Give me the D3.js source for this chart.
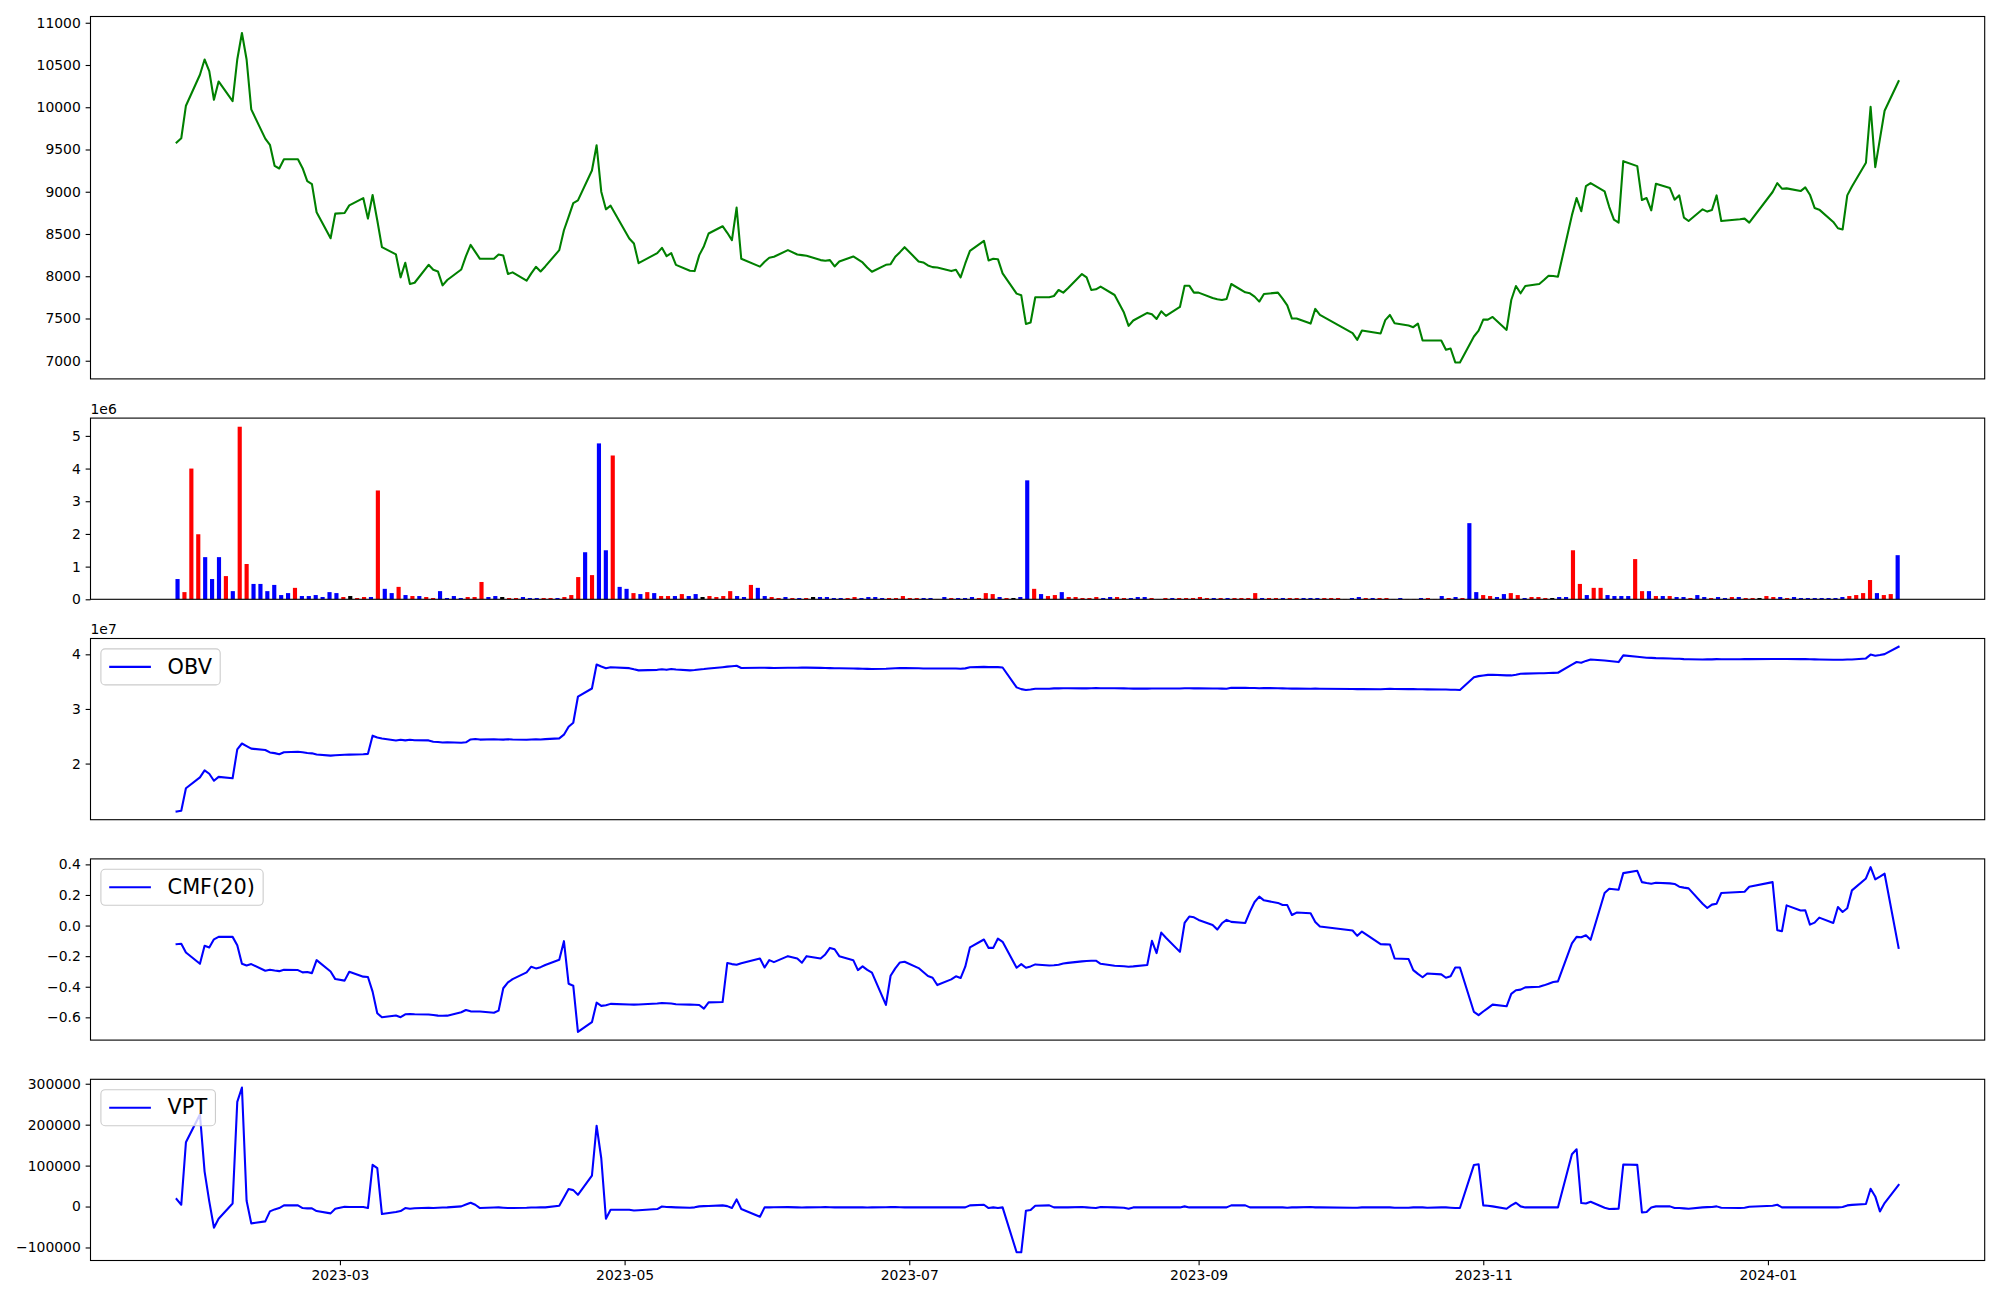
<!DOCTYPE html>
<html><head><meta charset="utf-8">
<script src="https://cdn.jsdelivr.net/npm/d3@7"></script>
<style>body{margin:0;background:#fff}</style>
</head><body>
<svg id="c" width="2000" height="1300" xmlns="http://www.w3.org/2000/svg"></svg>
<script>
// ---------------- DATA ----------------
const tradingDays = {
 "2023-01":[25,26,27,30,31],
 "2023-02":[1,2,3,6,7,8,9,10,13,14,15,16,17,20,21,22,23,24,27,28],
 "2023-03":[2,3,6,7,8,9,10,13,14,15,16,17,20,21,22,23,24,27,28,29,30,31],
 "2023-04":[3,4,5,6,7,10,11,12,13,14,17,18,19,20,21,24,25,26,27,28],
 "2023-05":[2,3,4,8,9,10,11,12,15,16,17,18,19,22,23,24,25,26,30,31],
 "2023-06":[1,2,5,7,8,9,12,13,14,15,16,19,20,21,22,23,26,27,28,29,30],
 "2023-07":[3,4,5,6,7,10,11,12,13,14,17,18,19,20,21,24,25,26,27,28,31],
 "2023-08":[1,2,3,4,7,8,9,10,11,14,16,17,18,21,22,23,24,25,28,29,30,31],
 "2023-09":[1,4,5,6,7,8,11,12,13,14,15,18,19,20,21,22,25,26,27],
 "2023-10":[4,5,6,10,11,12,13,16,17,18,19,20,23,24,25,26,27,30,31],
 "2023-11":[1,2,3,6,7,8,9,10,13,14,15,16,17,20,21,22,23,24,27,28,29,30],
 "2023-12":[1,4,5,6,7,8,11,12,13,14,15,18,19,20,21,22,26,27,28],
 "2024-01":[2,3,4,5,8,9,10,11,12,15,16,17,18,19,22,23,24,25,26,29]
};

const closePrice = [
 9582,9633,10018,10384,10565,10427,10089,10305,10073,10565,
 10879,10565,9975,9629,9555,9307,9275,9385,9385,9279,
 9126,9091,8757,8450,8741,8749,8839,8925,8682,8961,
 8662,8344,8258,7987,8159,7908,7923,8135,8076,8057,
 7892,7955,8080,8238,8371,8289,8206,8206,8258,8246,
 8026,8046,7947,8034,8112,8057,8116,8309,8544,8702,
 8866,8898,9252,9550,9001,8792,8835,8447,8388,8155,
 8273,8336,8238,8273,8135,8065,8061,8250,8356,8506,
 8592,8514,8427,8812,8206,8114,8171,8218,8230,8309,
 8258,8250,8242,8191,8183,8191,8116,8175,8234,8199,
 8163,8104,8053,8135,8143,8230,8285,8344,8175,8163,
 8128,8108,8104,8061,8076,7987,8151,8301,8419,8187,
 8206,8202,8034,7794,7774,7436,7452,7751,7751,7766,
 7837,7806,7857,8026,7987,7837,7845,7877,7778,7570,
 7413,7476,7566,7550,7495,7586,7531,7637,7888,7888,
 7806,7806,7743,7727,7719,7731,7908,7810,7798,7759,
 7700,7790,7806,7735,7656,7499,7499,7440,7613,7542,
 7326,7248,7357,7322,7480,7542,7444,7417,7397,7440,
 7240,7240,7240,7130,7145,6980,6980,7287,7357,7487,
 7487,7518,7365,7719,7884,7798,7884,7908,7955,8006,
 8002,7994,8723,8925,8769,9067,9102,9004,8819,8670,
 8635,9362,9303,8902,8925,8780,9095,9043,8906,8957,
 8694,8654,8792,8765,8784,8957,8654,8674,8682,8635,
 8997,9102,9036,9040,9008,9051,8965,8808,8788,8643,
 8568,8553,8957,9063,9343,10006,9291,9626,9959,10309
];

// volume in millions of shares (axis offset label "1e6")
const volumeMillions = [
 0.62,0.22,4.00,1.99,1.29,0.62,1.29,0.71,0.25,5.28,
 1.08,0.47,0.47,0.25,0.44,0.13,0.19,0.35,0.10,0.10,
 0.13,0.07,0.22,0.19,0.07,0.10,0.04,0.07,0.07,3.33,
 0.32,0.19,0.38,0.13,0.10,0.10,0.07,0.04,0.25,0.04,
 0.10,0.04,0.07,0.07,0.53,0.07,0.10,0.07,0.04,0.04,
 0.07,0.04,0.04,0.04,0.04,0.04,0.07,0.13,0.68,1.44,
 0.74,4.77,1.50,4.40,0.38,0.32,0.19,0.16,0.22,0.19,
 0.10,0.10,0.10,0.16,0.10,0.16,0.07,0.10,0.07,0.10,
 0.25,0.10,0.07,0.44,0.35,0.10,0.07,0.04,0.07,0.04,
 0.04,0.04,0.07,0.07,0.07,0.04,0.04,0.04,0.07,0.04,
 0.07,0.07,0.04,0.04,0.04,0.10,0.04,0.04,0.04,0.04,
 0.01,0.07,0.04,0.04,0.04,0.07,0.04,0.19,0.16,0.07,
 0.04,0.04,0.07,3.64,0.32,0.16,0.10,0.13,0.22,0.07,
 0.07,0.04,0.04,0.07,0.04,0.07,0.07,0.04,0.04,0.07,
 0.07,0.04,0.01,0.04,0.04,0.04,0.04,0.04,0.07,0.04,
 0.04,0.04,0.04,0.04,0.04,0.04,0.19,0.04,0.04,0.04,
 0.04,0.04,0.04,0.04,0.04,0.04,0.04,0.04,0.04,0.01,
 0.04,0.07,0.04,0.04,0.04,0.04,0.01,0.04,0.01,0.01,
 0.04,0.04,0.01,0.10,0.04,0.07,0.04,2.33,0.22,0.13,
 0.10,0.07,0.16,0.19,0.13,0.04,0.07,0.07,0.04,0.04,
 0.07,0.07,1.50,0.47,0.13,0.35,0.35,0.13,0.10,0.10,
 0.10,1.23,0.25,0.25,0.10,0.10,0.10,0.07,0.07,0.04,
 0.13,0.07,0.04,0.07,0.04,0.07,0.07,0.04,0.04,0.04,
 0.10,0.07,0.07,0.04,0.07,0.04,0.04,0.04,0.04,0.04,
 0.04,0.07,0.10,0.13,0.19,0.59,0.19,0.13,0.16,1.35
];

// candle direction of each day: 1 = up, -1 = down, 0 = unchanged
const candleDir = [
 -1,1,1,1,-1,-1,-1,1,-1,1,
 1,-1,-1,-1,-1,-1,-1,1,-1,-1,
 -1,-1,-1,-1,1,0,1,1,-1,1,
 -1,-1,1,-1,1,-1,1,1,-1,-1,
 -1,-1,1,1,1,-1,-1,0,1,1,
 -1,-1,-1,1,1,-1,1,1,1,-1,
 1,-1,-1,1,-1,-1,1,-1,1,-1,
 1,1,-1,1,-1,-1,0,1,1,1,
 1,-1,-1,1,-1,-1,1,1,-1,1,
 -1,1,0,-1,-1,-1,-1,1,1,-1,
 -1,-1,-1,1,1,1,1,1,-1,-1,
 1,-1,1,-1,-1,-1,1,1,1,-1,
 1,0,-1,-1,1,-1,1,1,-1,1,
 1,1,1,1,-1,-1,1,1,-1,-1,
 -1,1,1,1,-1,1,1,1,1,1,
 -1,1,-1,1,1,1,1,-1,1,1,
 -1,1,1,-1,-1,-1,1,1,1,1,
 -1,-1,1,-1,1,1,1,-1,1,1,
 -1,1,1,-1,1,-1,1,-1,-1,1,
 1,-1,-1,1,1,-1,1,1,1,0,
 -1,-1,1,1,-1,1,1,-1,-1,-1,
 -1,1,1,-1,1,-1,1,-1,-1,1,
 -1,-1,1,-1,-1,1,-1,1,1,0,
 1,1,-1,1,-1,-1,-1,-1,-1,-1,
 -1,-1,1,1,1,1,-1,1,1,-1
];

// OBV in units of 1e7 (axis offset label "1e7")
const obvE7 = [
 1.123,1.135,1.548,1.747,1.876,1.814,1.685,1.756,1.731,2.259,
 2.367,2.320,2.273,2.248,2.204,2.191,2.172,2.207,2.217,2.207,
 2.194,2.187,2.165,2.146,2.153,2.160,2.164,2.171,2.178,2.511,
 2.479,2.460,2.422,2.435,2.425,2.435,2.428,2.424,2.399,2.395,
 2.385,2.389,2.382,2.389,2.442,2.449,2.439,2.446,2.442,2.438,
 2.445,2.441,2.437,2.441,2.445,2.441,2.448,2.461,2.529,2.673,
 2.747,3.224,3.374,3.814,3.776,3.744,3.763,3.747,3.725,3.706,
 3.716,3.726,3.716,3.732,3.722,3.706,3.713,3.723,3.730,3.740,
 3.765,3.775,3.782,3.790,3.750,3.754,3.754,3.752,3.750,3.754,
 3.754,3.756,3.756,3.752,3.750,3.748,3.746,3.744,3.740,3.738,
 3.735,3.733,3.730,3.735,3.740,3.745,3.748,3.750,3.745,3.742,
 3.742,3.742,3.740,3.742,3.740,3.736,3.743,3.762,3.770,3.766,
 3.766,3.766,3.759,3.395,3.363,3.347,3.357,3.370,3.371,3.377,
 3.377,3.380,3.380,3.377,3.377,3.380,3.382,3.380,3.378,3.377,
 3.374,3.372,3.372,3.374,3.374,3.373,3.375,3.375,3.378,3.378,
 3.376,3.376,3.374,3.374,3.372,3.370,3.389,3.386,3.383,3.383,
 3.380,3.383,3.380,3.377,3.375,3.372,3.372,3.370,3.372,3.370,
 3.366,3.363,3.366,3.362,3.366,3.370,3.366,3.363,3.363,3.362,
 3.360,3.358,3.356,3.355,3.352,3.350,3.346,3.579,3.601,3.614,
 3.624,3.626,3.614,3.614,3.627,3.645,3.647,3.652,3.655,3.657,
 3.660,3.663,3.813,3.860,3.847,3.880,3.905,3.888,3.878,3.868,
 3.858,3.981,3.955,3.948,3.938,3.935,3.930,3.925,3.920,3.918,
 3.912,3.910,3.906,3.910,3.908,3.912,3.910,3.910,3.912,3.912,
 3.914,3.916,3.914,3.914,3.912,3.912,3.910,3.908,3.906,3.902,
 3.900,3.900,3.904,3.906,3.925,3.995,3.975,3.988,4.004,4.139
];

const cmf20 = [
 -0.122,-0.119,-0.176,-0.250,-0.132,-0.143,-0.090,-0.074,-0.074,-0.128,
 -0.250,-0.261,-0.252,-0.295,-0.289,-0.294,-0.298,-0.289,-0.291,-0.306,
 -0.304,-0.311,-0.226,-0.300,-0.350,-0.360,-0.302,-0.334,-0.336,-0.432,
 -0.573,-0.600,-0.588,-0.599,-0.580,-0.578,-0.580,-0.582,-0.585,-0.589,
 -0.590,-0.589,-0.567,-0.552,-0.561,-0.562,-0.562,-0.570,-0.556,-0.410,
 -0.372,-0.350,-0.306,-0.269,-0.280,-0.272,-0.258,-0.224,-0.102,-0.380,
 -0.393,-0.695,-0.632,-0.504,-0.525,-0.521,-0.512,-0.516,-0.517,-0.516,
 -0.510,-0.506,-0.508,-0.510,-0.514,-0.517,-0.518,-0.519,-0.543,-0.502,
 -0.500,-0.245,-0.252,-0.256,-0.246,-0.215,-0.274,-0.226,-0.239,-0.200,
 -0.215,-0.243,-0.200,-0.215,-0.189,-0.146,-0.155,-0.200,-0.226,-0.291,
 -0.267,-0.290,-0.308,-0.519,-0.328,-0.280,-0.241,-0.237,-0.278,-0.304,
 -0.330,-0.341,-0.389,-0.352,-0.332,-0.343,-0.269,-0.143,-0.091,-0.146,
 -0.146,-0.085,-0.106,-0.276,-0.252,-0.276,-0.267,-0.254,-0.261,-0.259,
 -0.256,-0.248,-0.244,-0.234,-0.232,-0.230,-0.230,-0.250,-0.263,-0.266,
 -0.269,-0.267,-0.258,-0.100,-0.180,-0.046,-0.080,-0.172,0.017,0.059,
 0.054,0.037,0.004,-0.026,0.015,0.037,0.024,0.017,0.091,0.154,
 0.189,0.165,0.148,0.134,0.134,0.069,0.085,0.080,0.024,-0.006,
 -0.032,-0.067,-0.039,-0.122,-0.123,-0.124,-0.215,-0.219,-0.291,-0.316,
 -0.338,-0.313,-0.319,-0.341,-0.332,-0.274,-0.274,-0.565,-0.586,-0.562,
 -0.540,-0.517,-0.528,-0.447,-0.423,-0.419,-0.404,-0.400,-0.391,-0.380,
 -0.369,-0.365,-0.117,-0.074,-0.076,-0.063,-0.093,0.213,0.241,0.238,
 0.234,0.343,0.358,0.284,0.278,0.273,0.280,0.276,0.272,0.254,
 0.248,0.243,0.143,0.115,0.137,0.143,0.213,0.219,0.221,0.254,
 0.284,-0.030,-0.037,0.132,0.098,0.100,0.006,0.019,0.052,0.017,
 0.121,0.089,0.113,0.230,0.308,0.382,0.302,0.320,0.339,-0.146
];

const vpt = [
 18200,4400,156900,225000,85400,12400,-51600,-29700,7600,255700,
 290700,14100,-41100,-36200,-11900,-7000,-3700,2800,2800,-3700,
 -4500,-4500,-11000,-16700,-5400,-500,-1000,-1300,-3700,101700,
 93600,-18300,-13500,-11000,-3700,-5400,-4000,-3000,-3700,-3000,
 -2500,-2100,400,5000,9300,4400,-3700,-2500,-2100,-3000,
 -3700,-3500,-3000,-2500,-2500,-2100,-2100,2000,22300,42600,
 40100,28700,75700,197400,118000,-29700,-7800,-7800,-9500,-9000,
 -6200,0,-1000,-1500,-2000,-3000,-2000,400,1000,1500,
 2800,1000,-3700,17400,-6200,-24800,-2100,-2100,-1800,-1500,
 -2100,-2500,-2100,-1800,-1500,-1800,-2100,-2100,-1800,-2000,
 -2100,-2500,-2100,-1800,-1500,-1500,-1800,-2100,-2100,-1800,
 -2100,-2100,-1800,-2100,-2100,-2100,-2100,2800,4400,-3700,
 -2100,-3700,-2100,-111700,-111700,-10200,-8600,2000,2800,-2100,
 -2100,-2100,-2100,-1300,-2100,-3000,-3700,-1300,-2100,-3000,
 -5400,-2100,-2100,-2100,-2100,-2100,-2100,-2100,400,-2100,
 -2100,-2100,-2100,-2100,-2100,-2100,2800,2800,-2100,-2100,
 -2100,-2100,-2100,-2100,-3000,-2100,-2100,-1300,-2100,-2100,
 -3000,-3000,-2100,-2100,-2100,-2100,-3000,-3000,-2100,-2100,
 -2100,-3000,-2100,-2100,-3000,-3700,-3700,101700,103300,2800,
 2000,400,-5400,2800,9300,400,-2100,-2100,-2100,-2100,
 -2100,-2100,127700,139900,8500,7600,11700,-2900,-6200,-5800,
 -5400,102500,101700,-14300,-13500,-2100,400,400,-3700,-3700,
 -4500,-5400,-2100,-1500,-1000,400,-3000,-3700,-3000,-500,
 2000,4400,-2100,-2100,-2100,-2100,-2100,-2100,-2100,-2100,
 -2100,-1000,2800,4000,6100,43300,24700,-11900,8500,53000
];

const xTickLabels = ["2023-03","2023-05","2023-07","2023-09","2023-11","2024-01"];
const priceTicks = [7000,7500,8000,8500,9000,9500,10000,10500,11000];
const volumeTicks = [0,1,2,3,4,5];
const obvTicks = [2,3,4];
const cmfTicks = [-0.6,-0.4,-0.2,0.0,0.2,0.4];
const vptTicks = [-100000,0,100000,200000,300000];

// ---------------- LAYOUT ----------------
const FONT = "DejaVu Sans";
const TICK_FS = 13.9, LEG_FS = 20.83;
const L = 90.5, R = 1984.7;
const TOP = 16.5, UNIT = 181.2, GAP = 39.2;
const panels = [];
{ let y = TOP; [2,1,1,1,1].forEach(s => { panels.push({top:y, bottom:y + s*UNIT}); y += s*UNIT + GAP; }); }

const svg = d3.select("#c");
svg.append("rect").attr("width",2000).attr("height",1300).attr("fill","#fff");

const dates = Object.entries(tradingDays).flatMap(([ym, ds]) => ds.map(d => ym + "-" + String(d).padStart(2,"0")));
const parse = d3.utcParse("%Y-%m-%d");
const t = dates.map(parse);
const span = t[t.length-1] - t[0];
const x = d3.scaleUtc().domain([new Date(+t[0] - 0.05*span), new Date(+t[t.length-1] + 0.05*span)]).range([L, R]);
const n = dates.length;
const xi = d3.scaleLinear().domain([-12.6, n - 1 + 12.6]).range([L, R]);

function padded(arr){ const [a,b] = d3.extent(arr); const p = (b-a)*0.05; return [a-p, b+p]; }

function yAxis(scale, ticks, fmt){
  const g = svg.append("g").attr("transform",`translate(${L},0)`);
  g.call(d3.axisLeft(scale).tickValues(ticks).tickFormat(fmt).tickSize(4.86).tickPadding(4.86));
  g.attr("font-family", FONT).attr("font-size", TICK_FS);
  g.select(".domain").remove();
  g.selectAll(".tick line").attr("stroke","#000").attr("stroke-width",1.1);
  g.selectAll(".tick text").attr("fill","#000");
}
function frame(p){
  svg.append("rect").attr("x",L).attr("y",p.top).attr("width",R-L).attr("height",p.bottom-p.top)
    .attr("fill","none").attr("stroke","#000").attr("stroke-width",1.1);
}
function lineMark(values, y, color){
  const gen = d3.line().x((d,i) => x(t[i])).y(d => y(d));
  svg.append("path").datum(values).attr("d", gen).attr("fill","none")
    .attr("stroke", color).attr("stroke-width", 2.08).attr("stroke-linejoin","round").attr("stroke-linecap","square");
}
function legend(p, label){
  const g = svg.append("g");
  const bx = L + 10.4, by = p.top + 10.4, pad = 8.3, hl = 41.7, tp = 16.7, h = 36;
  const rect = g.append("rect");
  g.append("line").attr("x1",bx+pad).attr("x2",bx+pad+hl).attr("y1",by+h/2).attr("y2",by+h/2)
    .attr("stroke","blue").attr("stroke-width",2.08);
  const tx = g.append("text").attr("x",bx+pad+hl+tp).attr("y",by+h/2+6.6)
    .attr("font-family",FONT).attr("font-size",LEG_FS).attr("fill","#000").text(label);
  const w = tx.node().getComputedTextLength();
  rect.attr("x",bx).attr("y",by).attr("width",pad+hl+tp+w+pad).attr("height",h).attr("rx",4.2)
    .attr("fill","#fff").attr("fill-opacity",0.8).attr("stroke","#cccccc").attr("stroke-width",1.1);
}
function offsetText(p, label){
  svg.append("text").attr("x",L).attr("y",p.top-4.2).attr("font-family",FONT).attr("font-size",TICK_FS)
    .attr("fill","#000").text(label);
}

// ---- Panel 1: price ----
{
  const p = panels[0];
  const y = d3.scaleLinear().domain(padded(closePrice)).range([p.bottom, p.top]);
  lineMark(closePrice, y, "green");
  yAxis(y, priceTicks, d3.format("d"));
  frame(p);
}
// ---- Panel 2: volume bars ----
{
  const p = panels[1];
  const y = d3.scaleLinear().domain([0, d3.max(volumeMillions)*1.05]).range([p.bottom, p.top]);
  const bw = xi(0.6) - xi(0);
  const colorOf = d => d > 0 ? "red" : (d < 0 ? "blue" : "black");
  svg.append("g").selectAll("rect").data(volumeMillions).join("rect")
    .attr("x",(d,i) => xi(i) - bw/2).attr("width",bw)
    .attr("y",d => y(d)).attr("height",d => y(0) - y(d))
    .attr("fill",(d,i) => colorOf(candleDir[i]));
  yAxis(y, volumeTicks, d3.format("d"));
  offsetText(p, "1e6");
  frame(p);
}
// ---- Panel 3: OBV ----
{
  const p = panels[2];
  const y = d3.scaleLinear().domain(padded(obvE7)).range([p.bottom, p.top]);
  lineMark(obvE7, y, "blue");
  yAxis(y, obvTicks, d3.format("d"));
  offsetText(p, "1e7");
  frame(p);
  legend(p, "OBV");
}
// ---- Panel 4: CMF ----
{
  const p = panels[3];
  const y = d3.scaleLinear().domain(padded(cmf20)).range([p.bottom, p.top]);
  lineMark(cmf20, y, "blue");
  yAxis(y, cmfTicks, d3.format(".1f"));
  frame(p);
  legend(p, "CMF(20)");
}
// ---- Panel 5: VPT ----
{
  const p = panels[4];
  const y = d3.scaleLinear().domain(padded(vpt)).range([p.bottom, p.top]);
  lineMark(vpt, y, "blue");
  yAxis(y, vptTicks, d3.format("d"));
  frame(p);
  legend(p, "VPT");
  const g = svg.append("g").attr("transform",`translate(0,${p.bottom})`);
  const monthParse = d3.utcParse("%Y-%m");
  g.call(d3.axisBottom(x).tickValues(xTickLabels.map(monthParse)).tickFormat(d3.utcFormat("%Y-%m")).tickSize(4.86).tickPadding(4.86));
  g.attr("font-family", FONT).attr("font-size", TICK_FS);
  g.select(".domain").remove();
  g.selectAll(".tick line").attr("stroke","#000").attr("stroke-width",1.1);
  g.selectAll(".tick text").attr("fill","#000");
}
</script>
</body></html>
